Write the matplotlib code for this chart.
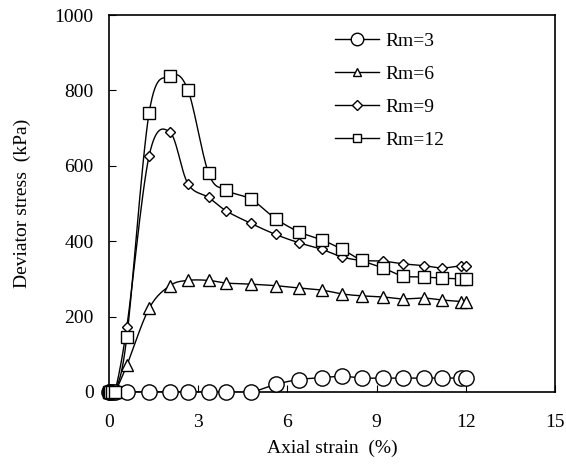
import numpy as np
import matplotlib
matplotlib.use("Agg")
import matplotlib.pyplot as plt
from matplotlib.lines import Line2D

plt.rcParams['font.family'] = ['Liberation Serif', 'DejaVu Serif']

# axial strain (%) at each reading
strain = [0, 0.05, 0.1, 0.2, 0.6, 1.35, 2.05, 2.65, 3.35, 3.95, 4.78, 5.6,
          6.38, 7.17, 7.85, 8.5, 9.22, 9.88, 10.6, 11.2, 11.85, 12.0]

# deviator stress (kPa)
rm3 = [0, 0, 0, 0, 0, 0, 0, 0, 0, 0, 0, 20,
       33, 38, 42, 37, 37, 37, 37, 37, 37, 37]
rm6 = [0, 0, 0, 0, 71, 222, 282, 296, 296, 289, 286, 282,
       276, 270, 260, 255, 252, 247, 249, 244, 240, 240]
rm9 = [0, 0, 0, 0, 173, 627, 689, 553, 516, 480, 447, 418,
       396, 378, 358, 349, 347, 340, 335, 329, 335, 335]
rm12 = [0, 0, 0, 0, 146, 741, 837, 802, 580, 535, 511, 460,
        425, 403, 378, 349, 329, 308, 305, 302, 300, 300]

labels = ['Rm=3', 'Rm=6', 'Rm=9', 'Rm=12']


def smooth(x, y, n=16):
    # Catmull-Rom curve through the points (like a spreadsheet smoothed line)
    x = np.asarray(x, float)
    y = np.asarray(y, float)
    px = np.concatenate([[x[0]], x, [x[-1]]])
    py = np.concatenate([[y[0]], y, [y[-1]]])
    t = np.linspace(0, 1, n)
    xs, ys = [], []
    for i in range(1, len(px) - 2):
        for p, out in ((px, xs), (py, ys)):
            p0, p1, p2, p3 = p[i - 1], p[i], p[i + 1], p[i + 2]
            c1 = p1 + (p2 - p0) / 6
            c2 = p2 - (p3 - p1) / 6
            out.extend((1 - t) ** 3 * p1 + 3 * (1 - t) ** 2 * t * c1
                       + 3 * (1 - t) * t ** 2 * c2 + t ** 3 * p2)
    return np.array(xs), np.array(ys)


fig = plt.figure(figsize=(5.66, 4.70), dpi=100)
ax = fig.add_axes([0.1926, 0.166, 0.788, 0.802])

styles = [('o', 11, 9), ('^', 8, 6), ('D', 5.5, 5), ('s', 8, 6)]
series = [rm3, rm6, rm9, rm12]
for ys, (m, ms, _) in zip(series, styles):
    sx, sy = smooth(strain, ys)
    ax.plot(sx, sy, color='black', lw=1.0)
    ax.plot(strain, ys, ls='none', marker=m, ms=ms, mfc='white',
            mec='black', mew=1.0, clip_on=False, zorder=3)

handles = [Line2D([], [], color='black', lw=1.0, marker=m, ms=lms,
                  mfc='white', mec='black', mew=1.0)
           for m, _, lms in styles]
ax.legend(handles, labels, loc='upper left', bbox_to_anchor=(0.506, 0.955),
          frameon=False, fontsize=14, handlelength=2.3, handletextpad=0.3,
          labelspacing=0.8, borderaxespad=0, borderpad=0)

ax.set_xlim(0, 15)
ax.set_ylim(0, 1000)
ax.set_xticks(range(0, 16, 3))
ax.set_yticks(range(0, 1001, 200))
ax.tick_params(direction='in', length=5, labelsize=14, top=False,
               right=False)
ax.tick_params(axis='x', pad=16)
ax.tick_params(axis='y', pad=11)
for s in ax.spines.values():
    s.set_linewidth(1.2)

ax.set_xlabel('Axial strain  (%)', fontsize=14, labelpad=6)
ax.set_ylabel('Deviator stress  (kPa)', fontsize=14, labelpad=17)

fig.savefig('out.png', dpi=100)
